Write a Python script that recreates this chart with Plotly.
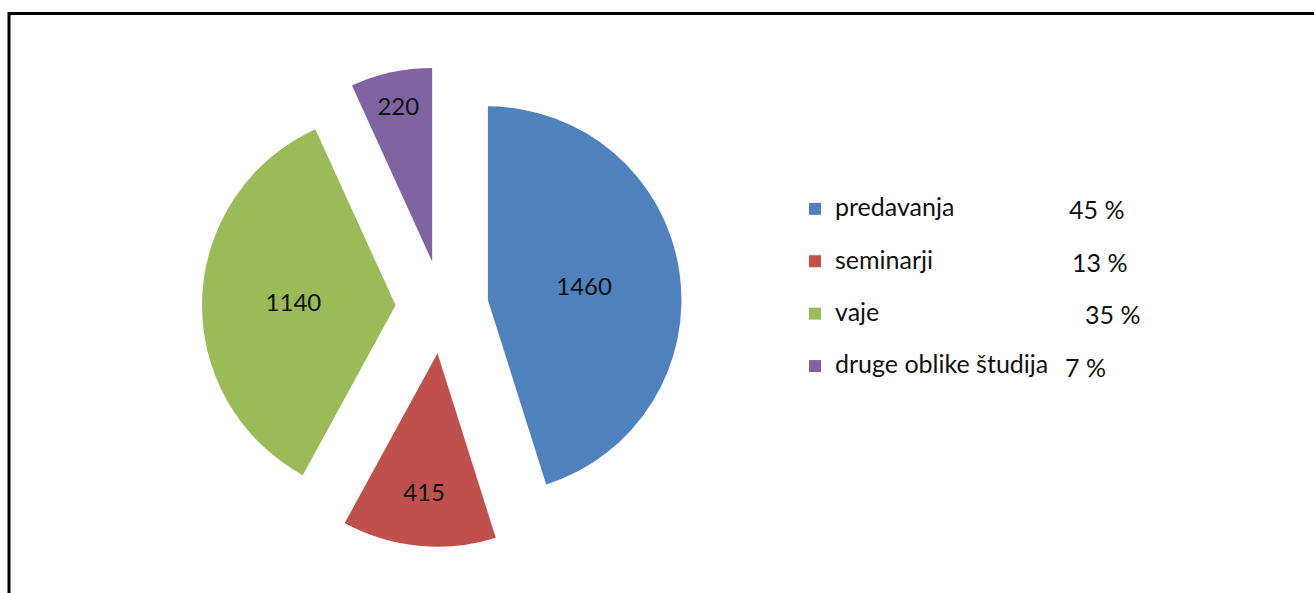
import plotly.graph_objects as go

categories = ["predavanja", "seminarji", "vaje", "druge oblike študija"]
values = [1460, 415, 1140, 220]
percent_labels = ["45 %", "13 %", "35 %", "7 %"]
colors = ["#4F81BD", "#C0504D", "#9BBB59", "#8064A2"]

W, H = 1314, 593
FONT = "Lato, 'Open Sans', sans-serif"

legend_names = [f"<span style='font-size:25px'>{c}</span><br>\u00a0" for c in categories]

fig = go.Figure(go.Pie(
    labels=legend_names,
    values=values,
    sort=False,
    direction="clockwise",
    rotation=0,
    pull=[0.24] * len(values),
    marker=dict(colors=colors, line=dict(width=0)),
    textinfo="value",
    textposition="inside",
    insidetextorientation="horizontal",
    textfont=dict(family=FONT, size=24, color="#111111"),
    domain=dict(x=[(442 - 240) / W, (442 + 240) / W], y=[1 - 551 / H, 1 - 63 / H]),
    hoverinfo="label+value+percent",
))

# percentage column next to the legend
pct_x = [1067, 1070, 1083, 1063]
row_y = [209, 262, 314, 367]
for p, px, py in zip(percent_labels, pct_x, row_y):
    fig.add_annotation(text=p, xref="paper", yref="paper", x=px / W, y=1 - py / H,
                       xanchor="left", yanchor="middle", showarrow=False,
                       font=dict(family=FONT, size=25, color="#111111"))

fig.add_shape(type="rect", xref="paper", yref="paper",
              x0=9 / W, x1=1.02, y0=-0.02, y1=1 - 13.5 / H,
              line=dict(color="black", width=3), fillcolor="rgba(0,0,0,0)")

fig.update_layout(
    width=W, height=H,
    margin=dict(l=0, r=0, t=0, b=0),
    paper_bgcolor="white", plot_bgcolor="white",
    showlegend=True,
    legend=dict(x=795 / W, y=1 - 190 / H, xanchor="left", yanchor="top",
                valign="top", font=dict(family=FONT, size=19, color="#111111"),
                bgcolor="rgba(0,0,0,0)"),
)

fig.write_html("out.html", config={"displayModeBar": False},
               post_script="document.body.style.margin='0';document.body.style.overflow='hidden';")
